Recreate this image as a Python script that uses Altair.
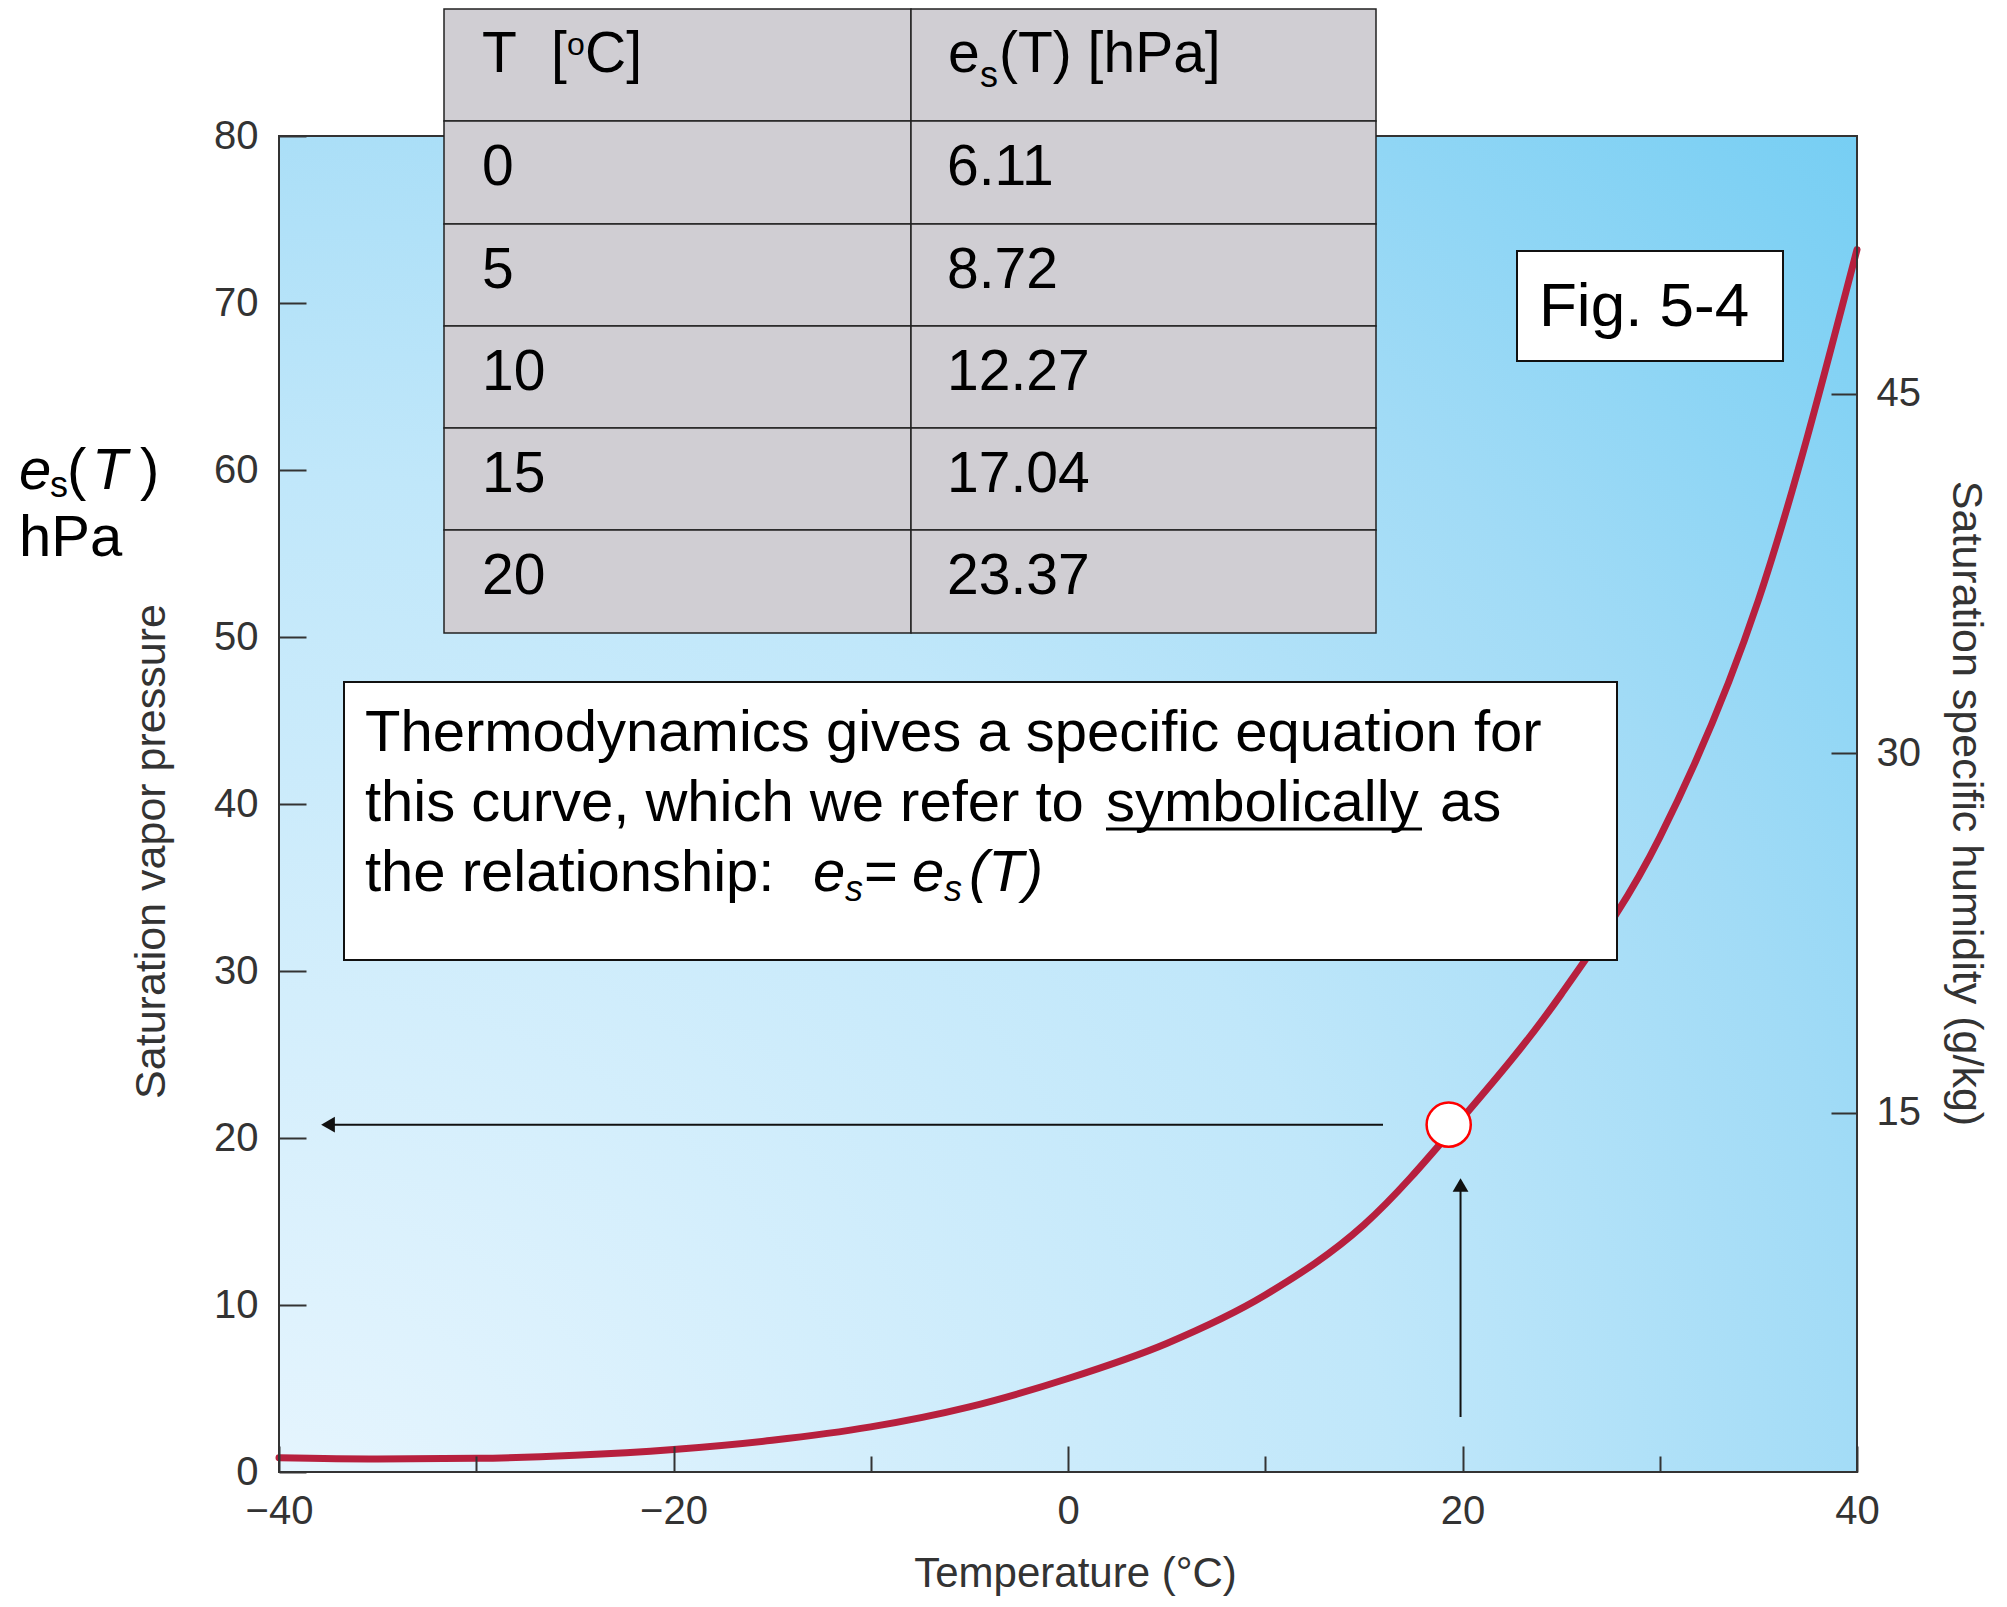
import altair as alt
import pandas as pd

# ---------------- data ----------------
CURVE_T = [-40, -35, -30, -25, -20, -15, -10, -5, 0, 5, 10, 15, 20, 25, 30, 35, 40]
CURVE_ES = [0.85, 0.78, 0.82, 1.0, 1.35, 1.9, 2.7, 3.9, 5.6, 7.7, 10.6, 14.8, 21.2, 28.6, 38.0, 52.2, 73.2]

TABLE_T = ["0", "5", "10", "15", "20"]
TABLE_ES = ["6.11", "8.72", "12.27", "17.04", "23.37"]

X_TICKS = [-40, -30, -20, -10, 0, 10, 20, 30, 40]
Y_TICKS = [0, 10, 20, 30, 40, 50, 60, 70, 80]
Q_TICKS = [15, 30, 45]

MARK_T, MARK_ES = 19.3, 20.8     # highlighted point on the curve
ARROW_T = 19.9                    # vertical arrow position

# ---------------- layout (page pixels) ----------------
PL, PR, PT, PB = 279, 1857, 136, 1472
W, H = PR - PL, PB - PT
XD = (-40, 40)
YD = (0, 80)
QD = (0, 55.75)
FONT = "Liberation Sans"


def tx(px):
    return XD[0] + (px - PL) / W * (XD[1] - XD[0])


def ty(py):
    return YD[0] + (PB - py) / H * (YD[1] - YD[0])


XS = alt.Scale(domain=list(XD), nice=False, zero=False)
YS = alt.Scale(domain=list(YD), nice=False, zero=False)

x_axis = alt.Axis(
    values=X_TICKS, orient="bottom", domain=False, grid=False, zindex=1,
    tickSize={"expr": "datum.value % 20 === 0 ? -26 : -16"}, tickColor="#333", tickWidth=2,
    labelExpr="datum.value % 20 === 0 ? replace(datum.label, '-', '\u2212') : ''",
    labelFont=FONT, labelFontSize=40, labelColor="#333", labelPadding=45,
    labelFlush=False, labelOverlap=False, format="d",
    title="Temperature (\u00b0C)", titleFont=FONT, titleFontSize=42, titleFontWeight="normal",
    titleColor="#333", titleX=796, titleY=101, titleAlign="center", titleBaseline="middle",
)
y_axis = alt.Axis(
    values=Y_TICKS, orient="left", domain=False, grid=False, zindex=1,
    tickSize={"expr": "-27"}, tickColor="#333", tickWidth=2,
    labelFont=FONT, labelFontSize=40, labelColor="#333", labelPadding=48,
    labelFlush=False, labelOverlap=False, format="d",
    title="Saturation vapor pressure", titleFont=FONT, titleFontSize=43, titleFontWeight="normal",
    titleColor="#333", titleAngle=270, titleX=-128, titleY=715, titleAlign="center",
    titleBaseline="middle",
)


def X(f):
    return alt.X(f, type="quantitative", scale=XS, axis=x_axis)


def Y(f):
    return alt.Y(f, type="quantitative", scale=YS, axis=y_axis)


# ---------------- background ----------------
grad = {
    "gradient": "radial", "x1": 0, "y1": 1, "r1": 0, "x2": 0, "y2": 1, "r2": 1.42,
    "stops": [
        {"offset": 0.0, "color": "#E9F6FE"},
        {"offset": 0.5, "color": "#C0E7FA"},
        {"offset": 0.72, "color": "#A1DBF6"},
        {"offset": 1.0, "color": "#6FCCF3"},
    ],
}
frame_df = pd.DataFrame({"x": [XD[0]], "x2": [XD[1]], "y": [YD[0]], "y2": [YD[1]]})
bg = alt.Chart(frame_df).mark_rect(fill=grad).encode(
    x=X("x"), x2="x2", y=Y("y"), y2="y2")

# ---------------- curve ----------------
curve_df = pd.DataFrame({"T": CURVE_T, "es": CURVE_ES})
curve = alt.Chart(curve_df).mark_line(
    color="#B7203E", strokeWidth=7, interpolate="monotone", strokeCap="round"
).encode(x=X("T"), y=Y("es"))

frame = alt.Chart(frame_df).mark_rect(fillOpacity=0, stroke="#333", strokeWidth=2).encode(
    x=X("x"), x2="x2", y=Y("y"), y2="y2")

# ---------------- arrows & marker ----------------
arrows_df = pd.DataFrame({
    "x": [tx(1383), ARROW_T],
    "x2": [tx(334), ARROW_T],
    "y": [MARK_ES, ty(1417)],
    "y2": [MARK_ES, ty(1190)],
})
arrows = alt.Chart(arrows_df).mark_rule(color="#111", strokeWidth=2).encode(
    x=X("x"), x2="x2", y=Y("y"), y2="y2")

heads_df = pd.DataFrame({
    "x": [tx(328), ARROW_T],
    "y": [MARK_ES, ty(1185)],
    "shape": ["triangle-left", "triangle-up"],
})
heads = alt.Chart(heads_df).mark_point(filled=True, color="#111", size=250, opacity=1).encode(
    x=X("x"), y=Y("y"), shape=alt.Shape("shape:N", scale=None))

marker = alt.Chart(pd.DataFrame({"T": [MARK_T], "es": [MARK_ES]})).mark_circle(
    fill="white", stroke="#FF0000", strokeWidth=2.5, size=1950, opacity=1
).encode(x=X("T"), y=Y("es"))

# ---------------- table ----------------
COL_PX = [444, 911, 1376]
ROW_PX = [9, 121, 224, 326, 428, 530, 633]
cells = []
for i in range(len(ROW_PX) - 1):
    for j in range(2):
        cells.append({"x": tx(COL_PX[j]), "x2": tx(COL_PX[j + 1]),
                      "y": ty(ROW_PX[i]), "y2": ty(ROW_PX[i + 1])})
table = alt.Chart(pd.DataFrame(cells)).mark_rect(
    fill="#D0CED3", stroke="#222", strokeWidth=1.5
).encode(x=X("x"), x2="x2", y=Y("y"), y2="y2")

# ---------------- text boxes ----------------
boxes_df = pd.DataFrame({
    "x": [tx(344), tx(1517)], "x2": [tx(1617), tx(1783)],
    "y": [ty(682), ty(251)], "y2": [ty(960), ty(361)],
})
boxes = alt.Chart(boxes_df).mark_rect(fill="white", stroke="#111", strokeWidth=2).encode(
    x=X("x"), x2="x2", y=Y("y"), y2="y2")

underline = alt.Chart(pd.DataFrame({"x": [tx(1106)], "x2": [tx(1422)], "y": [ty(829)]})).mark_rule(
    color="#000", strokeWidth=3
).encode(x=X("x"), x2="x2", y=Y("y"))

# ---------------- text pieces (text, px, baseline py, size) ----------------
normal = [
    ("T", 482, 72, 57), ("[", 551, 72, 57), ("o", 567, 55, 32), ("C]", 585, 72, 57),
    ("e", 948, 72, 57), ("s", 980, 87, 36), ("(T) [hPa]", 999, 72, 57),
    ("Fig. 5-4", 1539, 326, 62),
    ("Thermodynamics gives a specific equation for", 365, 751, 58),
    ("this curve, which we refer to", 365, 821, 58),
    ("symbolically", 1106, 821, 58),
    ("as", 1440, 821, 58),
    ("the relationship:", 365, 891, 58),
    ("=", 864, 891, 58),
    ("s", 50, 497, 36), ("(", 67, 489, 58), (")", 140, 489, 58),
    ("hPa", 19, 556, 58),
]
for k, (tv, ev) in enumerate(zip(TABLE_T, TABLE_ES)):
    base = ROW_PX[k + 1] + 64
    normal.append((tv, 482, base, 57))
    normal.append((ev, 947, base, 57))
italic = [
    ("e", 813, 891, 58), ("s", 845, 901, 36),
    ("e", 912, 891, 58), ("s", 944, 901, 36),
    ("(T)", 969, 891, 58),
    ("e", 19, 489, 58), ("T", 92, 489, 58),
]


def text_layer(rows, style):
    df = pd.DataFrame({
        "t": [r[0] for r in rows],
        "x": [tx(r[1]) for r in rows],
        "y": [ty(r[2]) for r in rows],
        "fs": [r[3] for r in rows],
    })
    return alt.Chart(df).mark_text(
        align="left", baseline="alphabetic", font=FONT, fontStyle=style, color="#000"
    ).encode(x=X("x"), y=Y("y"), text="t:N", size=alt.Size("fs:Q", scale=None))


texts_n = text_layer(normal, "normal")
texts_i = text_layer(italic, "italic")

inner = alt.layer(bg, curve, arrows, heads, marker, frame, table, boxes, underline,
                  texts_n, texts_i)

# ---------------- right axis (specific humidity) ----------------
q_axis = alt.Axis(
    values=Q_TICKS, orient="right", domain=False, grid=False, zindex=1,
    tickSize={"expr": "-26"}, tickColor="#333", tickWidth=2,
    labelFont=FONT, labelFontSize=40, labelColor="#333", labelPadding=45,
    labelFlush=False, labelOverlap=False, format="d",
    title="Saturation specific humidity (g/kg)", titleFont=FONT, titleFontSize=43,
    titleFontWeight="normal", titleColor="#333", titleAngle=90, titleX=108, titleY=667,
    titleAlign="center", titleBaseline="middle",
)
right = alt.Chart(pd.DataFrame({"q": [Q_TICKS[0]]})).mark_point(opacity=0).encode(
    y=alt.Y("q:Q", scale=alt.Scale(domain=list(QD), nice=False, zero=False), axis=q_axis))

chart = alt.layer(inner, right).resolve_scale(y="independent").properties(
    width=W, height=H,
    autosize=alt.AutoSizeParams(type="none"),
    padding={"left": PL - 8, "top": PT - 8, "right": 140, "bottom": 125},
    background="white",
).configure_view(stroke=None)

chart.save("out.html", embed_options={"renderer": "svg", "actions": False})
